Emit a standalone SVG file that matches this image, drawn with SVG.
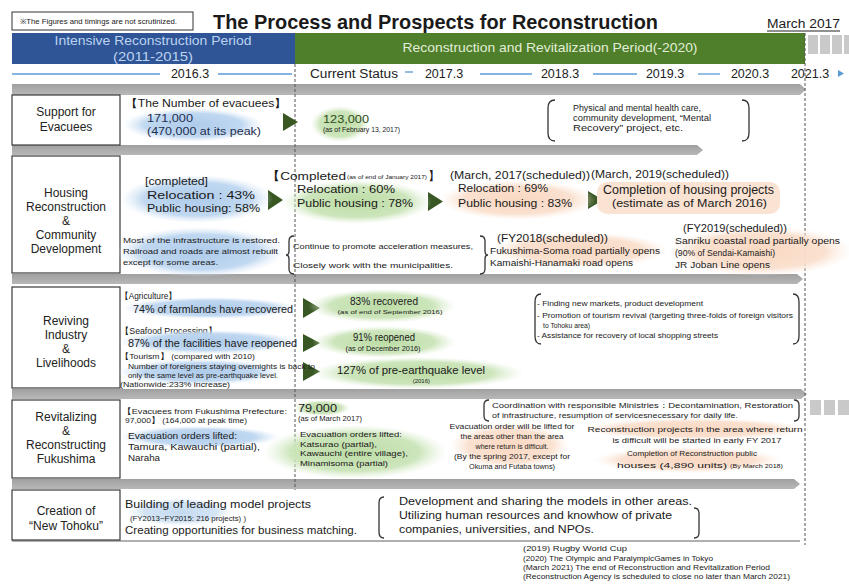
<svg xmlns="http://www.w3.org/2000/svg" width="849" height="585" viewBox="0 0 849 585">
<defs>
<style>
text{font-family:"Liberation Sans",Arial,sans-serif;fill:#1a1a1a}
.lbl{font-size:12px;text-anchor:middle;fill:#222}
.tl{font-size:12.5px;text-anchor:middle;fill:#222}
.m{font-size:11.5px}
.s{font-size:8px}
.xs{font-size:6.5px}
.c{text-anchor:middle}
.box{fill:#fff;stroke:#3a3a3a;stroke-width:1.2}
.bar{fill:url(#gBar)}
.tri{fill:#385723}
.br{fill:none;stroke:#333;stroke-width:1.3}
.dash{stroke:#555;stroke-width:1;stroke-dasharray:3,2}
.tline{stroke:#5b9bd5;stroke-width:1.3}
.sq{fill:#c9c9c9}
</style>
<linearGradient id="gBar" x1="0" y1="0" x2="0" y2="1"><stop offset="0" stop-color="#a0a0a0"/><stop offset="1" stop-color="#b8b8b8"/></linearGradient>
<radialGradient id="gB"><stop offset="0" stop-color="#aecbeb"/><stop offset="0.7" stop-color="#bdd6f0" stop-opacity="0.95"/><stop offset="1" stop-color="#d9e7f6" stop-opacity="0"/></radialGradient>
<radialGradient id="gG"><stop offset="0" stop-color="#bcdca5"/><stop offset="0.7" stop-color="#cae4b8" stop-opacity="0.95"/><stop offset="1" stop-color="#e0efd5" stop-opacity="0"/></radialGradient>
<radialGradient id="gP"><stop offset="0" stop-color="#f9d8c2"/><stop offset="0.7" stop-color="#fadfcd" stop-opacity="0.95"/><stop offset="1" stop-color="#fcece1" stop-opacity="0"/></radialGradient>
</defs>
<rect width="849" height="585" fill="#fff"/>

<g id="header">
<rect x="12" y="12" width="181" height="18" fill="#fff" stroke="#333" stroke-width="1"/>
<text x="20" y="24" font-size="7.5" textLength="157" lengthAdjust="spacingAndGlyphs">※The Figures and timings are not scrutinized.</text>
<text x="213" y="29" font-size="21" font-weight="bold" fill="#111" textLength="445" lengthAdjust="spacingAndGlyphs">The Process and Prospects for Reconstruction</text>
<text x="767" y="28" font-size="12.5" textLength="73" lengthAdjust="spacingAndGlyphs">March 2017</text>
<line x1="767" y1="31" x2="840" y2="31" stroke="#222" stroke-width="1"/>
<rect x="12" y="33" width="283" height="31" fill="#2f5597"/>
<text x="153" y="45" font-size="13.5" class="c" style="fill:#bcd3f0" textLength="197" lengthAdjust="spacingAndGlyphs">Intensive Reconstruction Period</text>
<text x="153" y="61" font-size="13.5" class="c" style="fill:#bcd3f0" textLength="80" lengthAdjust="spacingAndGlyphs">(2011-2015)</text>
<rect x="295" y="33" width="510" height="31" fill="#4f7f2b"/>
<text x="550" y="52" font-size="13" class="c" style="fill:#e2eed8" textLength="295" lengthAdjust="spacingAndGlyphs">Reconstruction and Revitalization Period(-2020)</text>
<rect class="sq" x="808" y="35" width="10" height="19"/>
<rect class="sq" x="820" y="35" width="10" height="19"/>
<rect class="sq" x="832" y="35" width="10" height="19"/>
<rect class="sq" x="844" y="35" width="5" height="19"/>
</g>

<g id="timeline">
<line class="tline" x1="12" y1="74" x2="160" y2="74"/>
<line class="tline" x1="218" y1="74" x2="292" y2="74"/>
<line class="tline" x1="405" y1="72" x2="413" y2="72"/>
<line class="tline" x1="480" y1="74" x2="532" y2="74"/>
<line class="tline" x1="593" y1="74" x2="637" y2="74"/>
<line class="tline" x1="698" y1="74" x2="720" y2="74"/>
<text class="tl" x="190" y="78">2016.3</text>
<text class="tl" x="354" y="78" textLength="88" lengthAdjust="spacingAndGlyphs">Current Status</text>
<text class="tl" x="444" y="78">2017.3</text>
<text class="tl" x="560" y="78">2018.3</text>
<text class="tl" x="665" y="78">2019.3</text>
<text class="tl" x="750" y="78">2020.3</text>
<text class="tl" x="810" y="78">2021.3</text>
<polygon points="838,70 844,73.5 838,77" fill="#5b9bd5"/>
</g>

<g id="connectors">
<polygon class="bar" points="12,84 800,84 806,89.5 800,95 12,95"/>
<polygon class="bar" points="12,145 697,145 703,150 697,155 12,155"/>
<polygon class="bar" points="12,274 797,274 803,279 797,284 12,284"/>
<polygon class="bar" points="12,389 801,389 807,394 801,399 12,399"/>
<polygon class="bar" points="12,479 794,479 800,484 794,489 12,489"/>
<line x1="12" y1="541" x2="800" y2="541" stroke="#b0b0b0" stroke-width="2"/>
<rect class="sq" x="810" y="400" width="11" height="15"/>
<rect class="sq" x="824" y="400" width="11" height="15"/>
<rect class="sq" x="838" y="400" width="11" height="15"/>
<line class="dash" x1="295" y1="64" x2="295" y2="490"/>
<line class="dash" x1="805" y1="33" x2="805" y2="545"/>
<polygon class="tri" points="283,113 298,122 283,131"/>
<polygon class="tri" points="268,190 283,200 268,210"/>
<polygon class="tri" points="428,192 443,201.5 428,211"/>
<polygon class="tri" points="588,191 603,200 588,209"/>
<polygon class="tri" points="303,298 320,308 303,318"/>
<polygon class="tri" points="303,334 320,343 303,352"/>
<polygon class="tri" points="303,362 320,371.5 303,381"/>
</g>

<g id="support">
<rect class="box" x="12" y="95" width="108" height="50"/>
<text class="lbl" x="66" y="116">Support for</text>
<text class="lbl" x="66" y="131">Evacuees</text>
<ellipse cx="193" cy="125" rx="70" ry="17" fill="url(#gB)"/>
<text x="125" y="107" font-size="10.5" textLength="162" lengthAdjust="spacingAndGlyphs">【The Number of evacuees】</text>
<text x="147" y="122" class="m" style="fill:#1f3050" textLength="46" lengthAdjust="spacingAndGlyphs">171,000</text>
<text x="147" y="135" class="m" style="fill:#1f3050" textLength="114" lengthAdjust="spacingAndGlyphs">(470,000 at its peak)</text>
<ellipse cx="340" cy="124" rx="29" ry="18" fill="url(#gG)"/>
<text x="323" y="123" font-size="11" style="fill:#2e4a1c" textLength="46" lengthAdjust="spacingAndGlyphs">123,000</text>
<text x="323" y="132" class="xs" textLength="77" lengthAdjust="spacingAndGlyphs">(as of February 13, 2017)</text>
<path class="br" d="M555,100 Q548,100 548,108 L548,133 Q548,141 555,141"/>
<path class="br" d="M742,100 Q749,100 749,108 L749,133 Q749,141 742,141"/>
<text x="573" y="111" font-size="8.5" fill="#333" textLength="128" lengthAdjust="spacingAndGlyphs">Physical and mental health care,</text>
<text x="573" y="121" font-size="8.5" textLength="138" lengthAdjust="spacingAndGlyphs">community development, “Mental</text>
<text x="573" y="131" font-size="8.5" textLength="110" lengthAdjust="spacingAndGlyphs">Recovery” project, etc.</text>
</g>

<g id="housing">
<rect class="box" x="12" y="156" width="108" height="117"/>
<text class="lbl" x="66" y="197">Housing</text>
<text class="lbl" x="66" y="211">Reconstruction</text>
<text class="lbl" x="66" y="225">&amp;</text>
<text class="lbl" x="66" y="239">Community</text>
<text class="lbl" x="66" y="253">Development</text>
<ellipse cx="197" cy="199" rx="76" ry="24" fill="url(#gB)"/>
<text x="145" y="185" class="m" textLength="63" lengthAdjust="spacingAndGlyphs">[completed]</text>
<text x="147" y="199" class="m" textLength="108" lengthAdjust="spacingAndGlyphs">Relocation : 43%</text>
<text x="147" y="212" class="m" textLength="113" lengthAdjust="spacingAndGlyphs">Public housing: 58%</text>
<text x="266" y="180" class="m" textLength="80" lengthAdjust="spacingAndGlyphs">【Completed</text>
<text x="347" y="179" font-size="6" textLength="80" lengthAdjust="spacingAndGlyphs">(as of end of January 2017)</text>
<text x="428" y="180" class="m">】</text>
<ellipse cx="357" cy="202" rx="75" ry="22" fill="url(#gG)"/>
<text x="297" y="193" class="m" textLength="98" lengthAdjust="spacingAndGlyphs">Relocation : 60%</text>
<text x="297" y="207" class="m" textLength="116" lengthAdjust="spacingAndGlyphs">Public housing : 78%</text>
<text x="450" y="179" class="m" textLength="140" lengthAdjust="spacingAndGlyphs">(March, 2017(scheduled))</text>
<ellipse cx="518" cy="200" rx="78" ry="20" fill="url(#gP)"/>
<text x="458" y="192" class="m" textLength="90" lengthAdjust="spacingAndGlyphs">Relocation : 69%</text>
<text x="458" y="207" class="m" textLength="114" lengthAdjust="spacingAndGlyphs">Public housing : 83%</text>
<text x="591" y="178" class="m" textLength="138" lengthAdjust="spacingAndGlyphs">(March, 2019(scheduled))</text>
<rect x="597" y="182" width="183" height="32" rx="10" fill="#fbe3d3"/>
<text x="603" y="194" font-size="12" textLength="171" lengthAdjust="spacingAndGlyphs">Completion of housing projects</text>
<text x="612" y="207" class="m" textLength="155" lengthAdjust="spacingAndGlyphs">(estimate as of March 2016)</text>
<ellipse cx="200" cy="252" rx="84" ry="25" fill="url(#gB)"/>
<text x="123" y="243" font-size="7.5" textLength="157" lengthAdjust="spacingAndGlyphs">Most of the infrastructure is restored.</text>
<text x="123" y="254" font-size="7.5" textLength="155" lengthAdjust="spacingAndGlyphs">Railroad and roads are almost rebuilt</text>
<text x="123" y="265" font-size="7.5" textLength="95" lengthAdjust="spacingAndGlyphs">except  for some areas.</text>
<path class="br" d="M294,236 Q289,236 289,241 L289,251 Q289,255 286,255 Q289,255 289,259 L289,269 Q289,274 294,274"/>
<text x="293" y="249" font-size="7.5" textLength="180" lengthAdjust="spacingAndGlyphs">Continue to promote acceleration measures,</text>
<text x="293" y="268" font-size="7.5" textLength="160" lengthAdjust="spacingAndGlyphs">Closely work with the municipalities.</text>
<path class="br" d="M480,236 Q485,236 485,241 L485,251 Q485,255 488,255 Q485,255 485,259 L485,269 Q485,274 480,274"/>
<ellipse cx="580" cy="250" rx="88" ry="18" fill="url(#gP)"/>
<text x="497" y="242" class="m" textLength="111" lengthAdjust="spacingAndGlyphs">(FY2018(scheduled))</text>
<text x="490" y="254" font-size="8.5" textLength="170" lengthAdjust="spacingAndGlyphs">Fukushima-Soma  road partially opens</text>
<text x="490" y="266" font-size="8.5" textLength="143" lengthAdjust="spacingAndGlyphs">Kamaishi-Hanamaki  road opens</text>
<ellipse cx="760" cy="251" rx="92" ry="25" fill="url(#gP)"/>
<text x="683" y="232" class="m" textLength="104" lengthAdjust="spacingAndGlyphs">(FY2019(scheduled))</text>
<text x="675" y="244" font-size="8.5" textLength="165" lengthAdjust="spacingAndGlyphs">Sanriku coastal road partially opens</text>
<text x="675" y="256" font-size="8.5" textLength="100" lengthAdjust="spacingAndGlyphs">(90% of Sendai-Kamaishi)</text>
<text x="675" y="268" font-size="8.5" textLength="95" lengthAdjust="spacingAndGlyphs">JR Joban Line opens</text>
</g>

<g id="industry">
<rect class="box" x="12" y="287" width="108" height="101"/>
<text class="lbl" x="66" y="325">Reviving</text>
<text class="lbl" x="66" y="339">Industry</text>
<text class="lbl" x="66" y="353">&amp;</text>
<text class="lbl" x="66" y="367">Livelihoods</text>
<text x="120" y="299" font-size="8.5" textLength="57" lengthAdjust="spacingAndGlyphs">【Agriculture】</text>
<ellipse cx="210" cy="308" rx="88" ry="11" fill="url(#gB)"/>
<text x="133" y="313" font-size="10" textLength="160" lengthAdjust="spacingAndGlyphs">74% of farmlands have recovered</text>
<ellipse cx="382" cy="306" rx="74" ry="17" fill="url(#gG)"/>
<text x="384" y="305" font-size="10.5" class="c" textLength="68" lengthAdjust="spacingAndGlyphs">83% recovered</text>
<text x="390" y="314" font-size="5.5" class="c" textLength="105" lengthAdjust="spacingAndGlyphs">(as of end of September 2016)</text>
<text x="120" y="334" font-size="8.5" textLength="97" lengthAdjust="spacingAndGlyphs">【Seafood Processing】</text>
<ellipse cx="208" cy="342" rx="90" ry="12" fill="url(#gB)"/>
<text x="128" y="347" font-size="10" textLength="169" lengthAdjust="spacingAndGlyphs">87% of the facilities have  reopened</text>
<ellipse cx="384" cy="342" rx="72" ry="16" fill="url(#gG)"/>
<text x="384" y="341" font-size="10.5" class="c" textLength="62" lengthAdjust="spacingAndGlyphs">91% reopened</text>
<text x="383" y="351" class="xs c" textLength="75" lengthAdjust="spacingAndGlyphs">(as of December 2016)</text>
<text x="120" y="359" font-size="7.5" textLength="135" lengthAdjust="spacingAndGlyphs">【Tourism】 (compared with 2010)</text>
<ellipse cx="200" cy="372" rx="82" ry="13" fill="url(#gB)"/>
<text x="128" y="369" class="xs" textLength="187" lengthAdjust="spacingAndGlyphs">Number of foreigners staying overnights is back to</text>
<text x="128" y="378" class="xs" textLength="150" lengthAdjust="spacingAndGlyphs">only the same level as pre-earthquake level.</text>
<text x="120" y="387" class="xs" textLength="110" lengthAdjust="spacingAndGlyphs">(Nationwide:233% increase)</text>
<ellipse cx="418" cy="373" rx="106" ry="16" fill="url(#gG)"/>
<text x="337" y="374" font-size="10.5" textLength="148" lengthAdjust="spacingAndGlyphs">127% of pre-earthquake level</text>
<text x="430" y="383" font-size="6" text-anchor="end">(2016)</text>
<path class="br" d="M541,294 Q535,294 535,302 L535,336 Q535,344 541,344"/>
<path class="br" d="M793,294 Q799,294 799,302 L799,336 Q799,344 793,344"/>
<text x="537" y="306" font-size="7.5" textLength="166" lengthAdjust="spacingAndGlyphs">- Finding new markets, product development</text>
<text x="537" y="318" font-size="7.5" textLength="256" lengthAdjust="spacingAndGlyphs">- Promotion of tourism revival (targeting three-folds of foreign visitors</text>
<text x="543" y="328" font-size="7.5" textLength="47" lengthAdjust="spacingAndGlyphs">to Tohoku area)</text>
<text x="537" y="338" font-size="7.5" textLength="181" lengthAdjust="spacingAndGlyphs">- Assistance for recovery of local shopping streets</text>
</g>

<g id="fukushima">
<rect class="box" x="12" y="400" width="108" height="78"/>
<text class="lbl" x="66" y="421">Revitalizing</text>
<text class="lbl" x="66" y="435">&amp;</text>
<text class="lbl" x="66" y="449">Reconstructing</text>
<text class="lbl" x="66" y="463">Fukushima</text>
<text x="122" y="414" font-size="7.5" textLength="165" lengthAdjust="spacingAndGlyphs">【Evacuees from Fukushima Prefecture:</text>
<text x="125" y="423" font-size="7.5" textLength="122" lengthAdjust="spacingAndGlyphs">97,000】 (164,000  at peak time)</text>
<ellipse cx="200" cy="437" rx="80" ry="11" fill="url(#gB)"/>
<text x="128" y="439" font-size="9.5" textLength="109" lengthAdjust="spacingAndGlyphs">Evacuation orders lifted:</text>
<text x="128" y="450" font-size="9.5" textLength="132" lengthAdjust="spacingAndGlyphs">Tamura, Kawauchi  (partial),</text>
<text x="128" y="461" font-size="9.5" textLength="32" lengthAdjust="spacingAndGlyphs">Naraha</text>
<ellipse cx="322" cy="408" rx="28" ry="8" fill="url(#gG)"/>
<text x="298" y="412" class="m" textLength="39" lengthAdjust="spacingAndGlyphs">79,000</text>
<text x="298" y="421" class="xs" textLength="64" lengthAdjust="spacingAndGlyphs">(as of March 2017)</text>
<ellipse cx="355" cy="452" rx="92" ry="27" fill="url(#gG)"/>
<text x="300" y="437" class="s" textLength="102" lengthAdjust="spacingAndGlyphs">Evacuation orders lifted:</text>
<text x="300" y="447" class="s" textLength="77" lengthAdjust="spacingAndGlyphs">Katsurao (partial),</text>
<text x="300" y="456" class="s" textLength="108" lengthAdjust="spacingAndGlyphs">Kawauchi (entire village),</text>
<text x="300" y="466" class="s" textLength="88" lengthAdjust="spacingAndGlyphs">Minamisoma (partial)</text>
<path class="br" d="M489,400 Q484,400 484,405 L484,416 Q484,421 489,421"/>
<path class="br" d="M794,400 Q799,400 799,405 L799,416 Q799,421 794,421"/>
<text x="492" y="408" class="s" textLength="301" lengthAdjust="spacingAndGlyphs">Coordination with responsible Ministries：Decontamination, Restoration</text>
<text x="492" y="418" class="s" textLength="246" lengthAdjust="spacingAndGlyphs">of infrastructure, resumption of servicesnecessary for daily life.</text>
<ellipse cx="510" cy="446" rx="60" ry="23" fill="url(#gP)"/>
<text x="512" y="429" class="s c" textLength="125" lengthAdjust="spacingAndGlyphs">Evacuation order will be lifted for</text>
<text x="512" y="439" class="s c" textLength="103" lengthAdjust="spacingAndGlyphs">the areas other than the area</text>
<text x="512" y="449" class="s c" textLength="73" lengthAdjust="spacingAndGlyphs">where return is difficult.</text>
<text x="512" y="459" class="s c" textLength="116" lengthAdjust="spacingAndGlyphs">(By the spring 2017, except for</text>
<text x="512" y="469" class="s c" textLength="86" lengthAdjust="spacingAndGlyphs">Okuma and Futaba towns)</text>
<ellipse cx="695" cy="429" rx="112" ry="11" fill="url(#gP)"/>
<text x="695" y="432" class="s c" textLength="215" lengthAdjust="spacingAndGlyphs">Reconstruction projects in the area where return</text>
<text x="697" y="443" class="s c" textLength="169" lengthAdjust="spacingAndGlyphs">is difficult will be started in early FY 2017</text>
<ellipse cx="688" cy="460" rx="94" ry="13" fill="url(#gP)"/>
<text x="692" y="456" class="s c" textLength="130" lengthAdjust="spacingAndGlyphs">Completion of Reconstruction public</text>
<text x="617" y="468" class="s" textLength="110" lengthAdjust="spacingAndGlyphs">houses (4,890  units)</text>
<text x="730" y="468" font-size="5.5" textLength="53" lengthAdjust="spacingAndGlyphs">(By March 2018)</text>
</g>

<g id="newtohoku">
<rect class="box" x="12" y="490" width="108" height="50"/>
<text class="lbl" x="66" y="515">Creation of</text>
<text class="lbl" x="66" y="530">“New Tohoku”</text>
<ellipse cx="180" cy="512" rx="52" ry="14" fill="url(#gB)" opacity="0.7"/>
<text x="125" y="508" font-size="10.5" textLength="186" lengthAdjust="spacingAndGlyphs">Building of leading model projects</text>
<text x="130" y="521" font-size="7.5" textLength="116" lengthAdjust="spacingAndGlyphs">(FY2013~FY2015: 216 projects) )</text>
<text x="125" y="534" font-size="10.5" textLength="232" lengthAdjust="spacingAndGlyphs">Creating opportunities for business matching.</text>
<path class="br" d="M384,497 Q379,497 379,503 L379,532 Q379,538 384,538"/>
<path class="br" d="M694,508 Q699,508 699,513 L699,533 Q699,538 694,538"/>
<text x="399" y="505" font-size="10" textLength="293" lengthAdjust="spacingAndGlyphs">Development and sharing the models in other areas.</text>
<text x="399" y="519" font-size="10" textLength="273" lengthAdjust="spacingAndGlyphs">Utilizing human resources and knowhow of private</text>
<text x="399" y="533" font-size="10" textLength="195" lengthAdjust="spacingAndGlyphs">companies, universities,  and NPOs.</text>
</g>

<g id="notes">
<text x="523" y="551" font-size="7.5" textLength="104" lengthAdjust="spacingAndGlyphs">(2019) Rugby World Cup</text>
<text x="523" y="561" font-size="7.5" textLength="190" lengthAdjust="spacingAndGlyphs">(2020) The Olympic and ParalympicGames in Tokyo</text>
<text x="523" y="570" font-size="7.5" textLength="247" lengthAdjust="spacingAndGlyphs">(March 2021)  The end of Reconstruction and Revitalization Period</text>
<text x="523" y="579" font-size="7.5" textLength="267" lengthAdjust="spacingAndGlyphs">(Reconstruction Agency is scheduled to close no later than March 2021)</text>
</g>
</svg>
